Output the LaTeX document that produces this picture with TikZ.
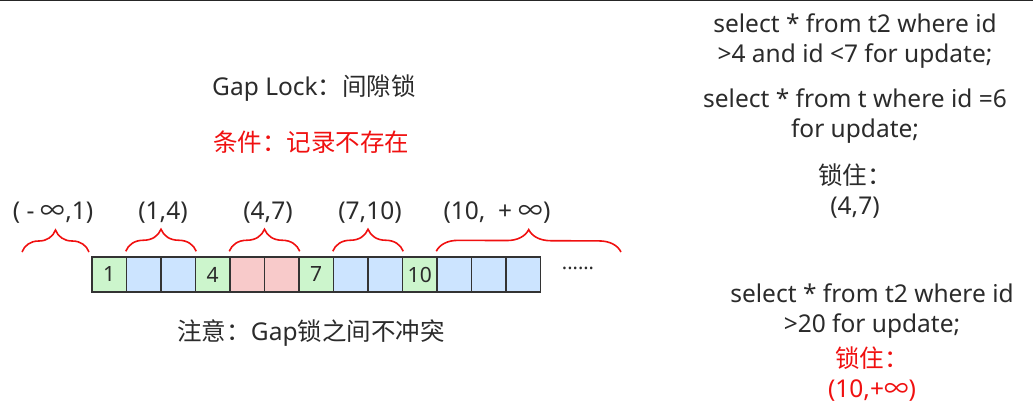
\documentclass[tikz,border=0pt]{standalone}
\usepackage{fontspec}
\setmainfont{Noto Sans}
\newfontfamily\cjk{Noto Sans CJK SC}
\usetikzlibrary{decorations.pathreplacing}
\definecolor{cellgreen}{HTML}{CCF5CC}
\definecolor{cellblue}{HTML}{CCE4FF}
\definecolor{cellpink}{HTML}{F8CACA}
\definecolor{cellline}{HTML}{333333}
\definecolor{textgray}{HTML}{2B2B2B}
\definecolor{lockred}{HTML}{F01010}
\begin{document}
\begin{tikzpicture}[x=1pt, y=-1pt,
	txt/.style={font=\fontsize{24.5}{30}\selectfont, align=center, text=textgray, inner sep=0pt},
	redtxt/.style={txt, text=lockred},
	cell/.style={draw=cellline, line width=1.5pt, minimum width=34.5pt, minimum height=35pt, inner sep=0pt, text=textgray, font=\fontsize{21}{21}\selectfont},
	gapbrace/.style={draw=lockred, line width=1.6pt, decorate, decoration={brace, amplitude=22pt}}]
	\useasboundingbox (0,0) rectangle (1033,412);
	\fill[black!85] (0,0) rectangle (1033,1.5);
	% titles
	\node[txt]    (title) at (314,88)  {Gap Lock{\cjk ：间隙锁}};
	\node[redtxt] (cond)  at (311,142) {\cjk 条件：记录不存在};
	\node[txt]    (note)  at (311,333) {{\cjk 注意：}Gap{\cjk 锁之间不冲突}};
	% index row
	\node[cell, fill=cellgreen] (c1)  at (109.25,274.5) {1};
	\node[cell, fill=cellblue]  (c2)  at (143.75,274.5) {};
	\node[cell, fill=cellblue]  (c3)  at (178.25,274.5) {};
	\node[cell, fill=cellgreen] (c4)  at (212.75,274.5) {4};
	\node[cell, fill=cellpink]  (c5)  at (247.25,274.5) {};
	\node[cell, fill=cellpink]  (c6)  at (281.75,274.5) {};
	\node[cell, fill=cellgreen] (c7)  at (316.25,274.5) {7};
	\node[cell, fill=cellblue]  (c8)  at (350.75,274.5) {};
	\node[cell, fill=cellblue]  (c9)  at (385.25,274.5) {};
	\node[cell, fill=cellgreen] (c10) at (419.75,274.5) {10};
	\node[cell, fill=cellblue]  (c11) at (454.25,274.5) {};
	\node[cell, fill=cellblue]  (c12) at (488.75,274.5) {};
	\node[cell, fill=cellblue]  (c13) at (523.25,274.5) {};
	\node[txt, font=\fontsize{20}{20}\selectfont]  (more) at (578,268) {......};
	% gaps
	\coordinate (gapa) at (22,252);
	\coordinate (gapb) at (89,252);
	\coordinate (gapz) at (621,252);
	\draw[gapbrace] (gapa) -- (gapb);
	\draw[gapbrace] ([yshift=5pt]c2.north west)  -- ([yshift=5pt]c3.north east);
	\draw[gapbrace] ([yshift=5pt]c5.north west)  -- ([yshift=5pt]c6.north east);
	\draw[gapbrace] ([yshift=5pt]c8.north west)  -- ([yshift=5pt]c9.north east);
	\draw[gapbrace] ([yshift=5pt]c11.north west) -- (gapz);
	\node[txt] (gap1) at (53,213)  {( - {\cjk ∞},1)};
	\node[txt] (gap2) at (163,213) {(1,4)};
	\node[txt] (gap3) at (268,213) {(4,7)};
	\node[txt] (gap4) at (370,213) {(7,10)};
	\node[txt] (gap5) at (497,213) {(10,\ \ + {\cjk ∞})};
	% queries
	\node[txt]    (q1)    at (855,41)  {select * from t2 where id\\>4 and id <7 for update;};
	\node[txt]    (q2)    at (855,116) {select * from t where id =6\\for update;};
	\node[txt]    (lock1) at (855,191) {{\cjk 锁住：}\\(4,7)};
	\node[txt]    (q3)    at (872,311) {select * from t2 where id\\>20 for update;};
	\node[redtxt] (lock2) at (872,374) {{\cjk 锁住：}\\(10,+{\cjk ∞})};
\end{tikzpicture}
\end{document}
